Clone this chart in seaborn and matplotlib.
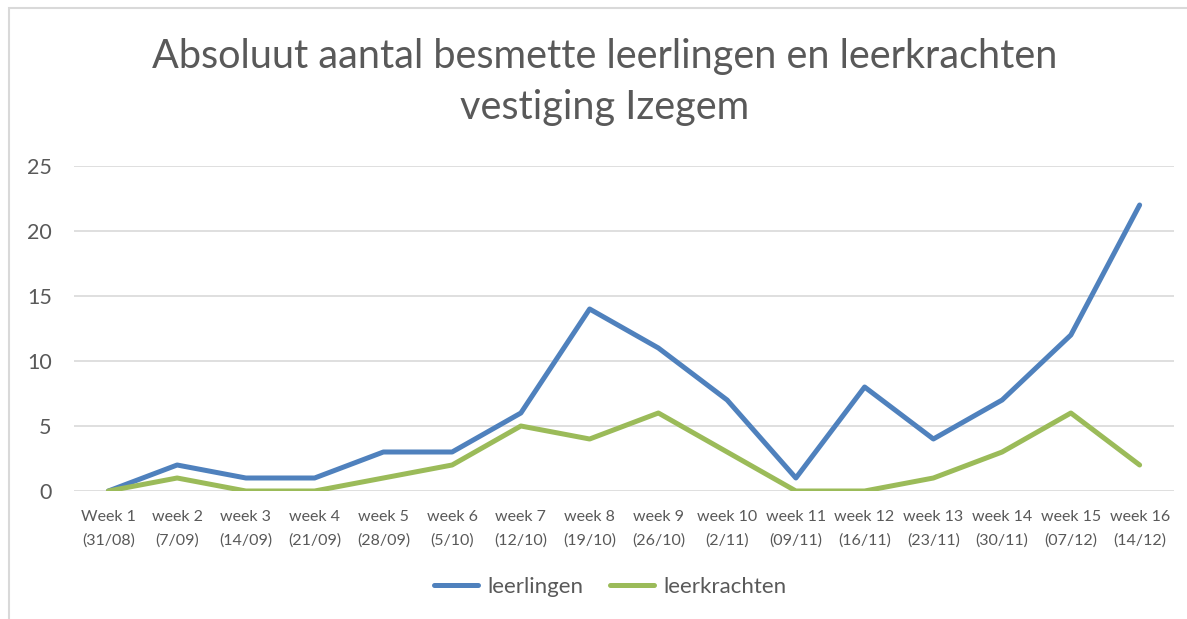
import matplotlib
matplotlib.use("Agg")
import matplotlib.pyplot as plt
from matplotlib.patches import Rectangle
import seaborn as sns
import pandas as pd

# Gegevens
weken = ["Week 1\n(31/08)", "week 2\n(7/09)", "week 3\n(14/09)", "week 4\n(21/09)",
         "week 5\n(28/09)", "week 6\n(5/10)", "week 7\n(12/10)", "week 8\n(19/10)",
         "week 9\n(26/10)", "week 10\n(2/11)", "week 11\n(09/11)", "week 12\n(16/11)",
         "week 13\n(23/11)", "week 14\n(30/11)", "week 15\n(07/12)", "week 16\n(14/12)"]
leerlingen = [0, 2, 1, 1, 3, 3, 6, 14, 11, 7, 1, 8, 4, 7, 12, 22]
leerkrachten = [0, 1, 0, 0, 1, 2, 5, 4, 6, 3, 0, 0, 1, 3, 6, 2]
y_ticks = [0, 5, 10, 15, 20, 25]

sns.set_style("white")
plt.rcParams['font.family'] = ['Lato', 'DejaVu Sans']

df = pd.DataFrame({
    'week': list(range(len(weken))) * 2,
    'aantal': leerlingen + leerkrachten,
    'groep': ['leerlingen'] * len(weken) + ['leerkrachten'] * len(weken),
})

W, H = 1187, 619
fig = plt.figure(figsize=(W / 100, H / 100), dpi=100)
ax = fig.add_axes([74 / W, 1 - 491 / H, (1174 - 74) / W, (491 - 166) / H])

# kader van de grafiek
fig.patches.append(Rectangle((9 / W, -0.1), 1.2, 1 - 8 / H + 0.1, transform=fig.transFigure,
                             fill=False, edgecolor='#D9D9D9', linewidth=1.5))

sns.lineplot(data=df, x='week', y='aantal', hue='groep', ax=ax,
             palette={'leerlingen': '#4F81BD', 'leerkrachten': '#9BBB59'},
             linewidth=3.6, legend=False, solid_capstyle='round', solid_joinstyle='round')

ax.set_xlim(-0.5, len(weken) - 0.5)
ax.set_ylim(0, 25)
ax.set_yticks(y_ticks)
ax.set_xticks(range(len(weken)))
ax.set_xticklabels(weken, fontsize=11.5, color='#595959', linespacing=1.75)
ax.tick_params(axis='y', labelsize=15.5, labelcolor='#595959', length=0, pad=16)
ax.tick_params(axis='x', length=0, pad=14)
ax.grid(axis='y', color='#D9D9D9', linewidth=1.2)
ax.set_axisbelow(True)
for s in ax.spines.values():
    s.set_visible(False)
ax.set_xlabel('')
ax.set_ylabel('')

fig.text(605 / W, 1 - 82 / H, "Absoluut aantal besmette leerlingen en leerkrachten\nvestiging Izegem",
         ha='center', va='center', fontsize=28.5, color='#595959', linespacing=1.45)

handles = [plt.Line2D([], [], color='#4F81BD', lw=3.6, solid_capstyle='round'),
           plt.Line2D([], [], color='#9BBB59', lw=3.6, solid_capstyle='round')]
fig.legend(handles, ['leerlingen', 'leerkrachten'], loc='center', ncol=2,
           bbox_to_anchor=(610 / W, 1 - 587 / H), frameon=False, fontsize=16,
           labelcolor='#595959', handlelength=2.0, handletextpad=0.4, columnspacing=1.2)

fig.savefig('out.png', dpi=100)
